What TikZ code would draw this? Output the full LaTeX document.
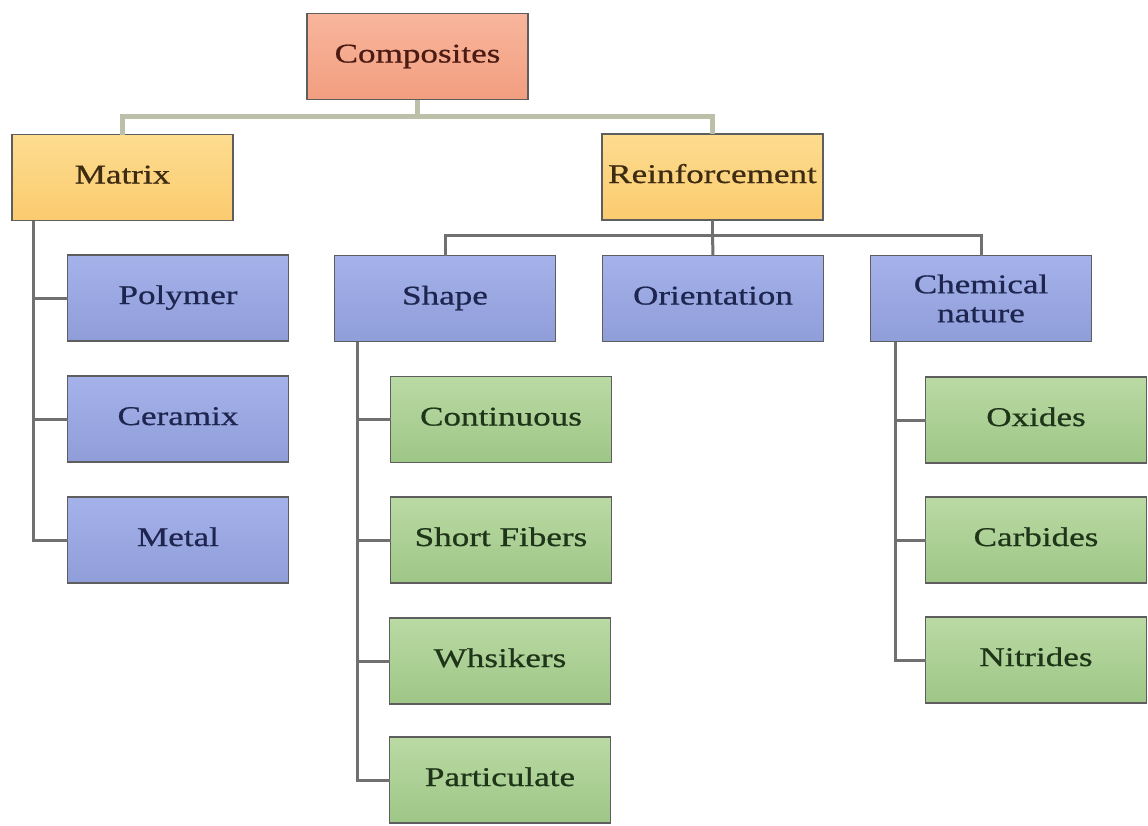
\documentclass[tikz,border=0pt]{standalone}
\usepackage{fontspec}
\setmainfont{Liberation Serif}[FakeStretch=1.3, FakeBold=0.7]
\definecolor{salA}{HTML}{F8B69C}
\definecolor{salB}{HTML}{F29E80}
\definecolor{salT}{HTML}{4B1A12}
\definecolor{yelA}{HTML}{FDDC90}
\definecolor{yelB}{HTML}{FBCB6E}
\definecolor{yelT}{HTML}{3D2B12}
\definecolor{bluA}{HTML}{A5B2EA}
\definecolor{bluB}{HTML}{8F9DD9}
\definecolor{bluT}{HTML}{1E2650}
\definecolor{grnA}{HTML}{BADAA4}
\definecolor{grnB}{HTML}{9EC686}
\definecolor{grnT}{HTML}{1F3519}
\definecolor{bordc}{HTML}{5E5E5E}
\definecolor{linec}{HTML}{707070}
\definecolor{topc}{HTML}{BCC0A8}
\tikzset{
  box/.style={draw=bordc, line width=1.5pt, minimum width=221pt, minimum height=86pt,
    inner sep=2pt, outer sep=0pt, align=center, font=\fontsize{27}{29}\selectfont,
    text height=18pt, text depth=6pt},
  twoline/.style={text height=, text depth=},
  salbox/.style={box, top color=salA, bottom color=salB, text=salT},
  yelbox/.style={box, top color=yelA, bottom color=yelB, text=yelT},
  blubox/.style={box, top color=bluA, bottom color=bluB, text=bluT},
  grnbox/.style={box, top color=grnA, bottom color=grnB, text=grnT},
  topline/.style={draw=topc, line width=5pt},
  conn/.style={draw=linec, line width=3pt},
}
\begin{document}
\begin{tikzpicture}[x=1pt,y=-1pt]
\useasboundingbox[fill=white] (0,0) rectangle (1148,825);
\coordinate (c1) at (417.5,116);
\coordinate (c2) at (712.5,235);
\node[salbox] (comp) at (417.5,56.5) {Composites};
\node[yelbox] (mat) at (122.5,177.5) {Matrix};
\node[yelbox] (rein) at (712.5,177) {Reinforcement};
\node[blubox] (pol) at (178,298) {Polymer};
\node[blubox] (cer) at (178,419) {Ceramix};
\node[blubox] (met) at (178,540) {Metal};
\node[blubox] (shp) at (445,298.5) {Shape};
\node[blubox] (ori) at (713,298.5) {Orientation};
\node[blubox, twoline] (chem) at (981,298.5) {Chemical\\nature};
\node[grnbox] (con) at (501,419.5) {Continuous};
\node[grnbox] (sf) at (501,540) {Short Fibers};
\node[grnbox] (wh) at (500,661) {Whsikers};
\node[grnbox] (par) at (500,780) {Particulate};
\node[grnbox] (oxi) at (1036,420) {Oxides};
\node[grnbox] (car) at (1036,540) {Carbides};
\node[grnbox] (nit) at (1036,660) {Nitrides};
\coordinate (mv) at ([xshift=21pt]mat.south west);
\coordinate (sv) at ([xshift=23pt]shp.south west);
\coordinate (cv) at ([xshift=25pt]chem.south west);
% top level
\draw[topline] (comp.south) -- (c1) -| (mat.north);
\draw[topline] (c1) -| (rein.north);
% reinforcement level
\draw[conn] (rein.south) -- (c2) -| (shp.north);
\draw[conn] (c2) -- (ori.north);
\draw[conn] (c2) -| (chem.north);
% matrix branches
\draw[conn] (mv) |- (pol.west);
\draw[conn] (mv) |- (cer.west);
\draw[conn] (mv) |- (met.west);
% shape branches
\draw[conn] (sv) |- (con.west);
\draw[conn] (sv) |- (sf.west);
\draw[conn] (sv) |- (wh.west);
\draw[conn] (sv) |- (par.west);
% chemical branches
\draw[conn] (cv) |- (oxi.west);
\draw[conn] (cv) |- (car.west);
\draw[conn] (cv) |- (nit.west);
\end{tikzpicture}
\end{document}
